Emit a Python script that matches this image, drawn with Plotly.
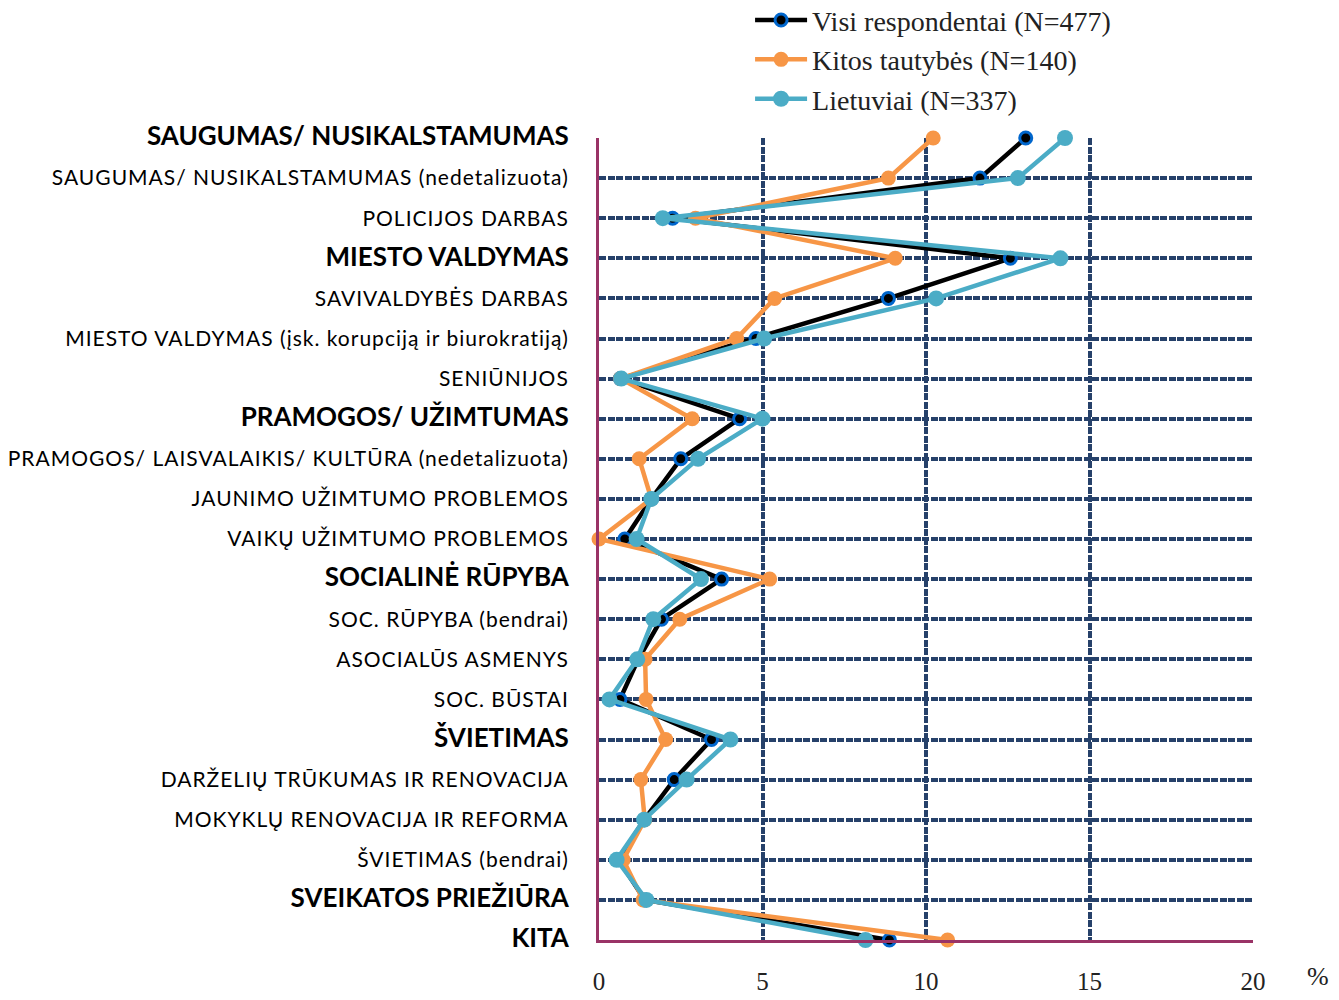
import plotly.graph_objects as go

# categories, top to bottom; bold = group headers
categories = [
    "SAUGUMAS/ NUSIKALSTAMUMAS",
    "SAUGUMAS/ NUSIKALSTAMUMAS (nedetalizuota)",
    "POLICIJOS DARBAS",
    "MIESTO VALDYMAS",
    "SAVIVALDYBĖS DARBAS",
    "MIESTO VALDYMAS (įsk. korupciją ir biurokratiją)",
    "SENIŪNIJOS",
    "PRAMOGOS/ UŽIMTUMAS",
    "PRAMOGOS/ LAISVALAIKIS/ KULTŪRA (nedetalizuota)",
    "JAUNIMO UŽIMTUMO PROBLEMOS",
    "VAIKŲ UŽIMTUMO PROBLEMOS",
    "SOCIALINĖ RŪPYBA",
    "SOC. RŪPYBA (bendrai)",
    "ASOCIALŪS ASMENYS",
    "SOC. BŪSTAI",
    "ŠVIETIMAS",
    "DARŽELIŲ TRŪKUMAS IR RENOVACIJA",
    "MOKYKLŲ RENOVACIJA IR REFORMA",
    "ŠVIETIMAS (bendrai)",
    "SVEIKATOS PRIEŽIŪRA",
    "KITA",
]
headers = {"SAUGUMAS/ NUSIKALSTAMUMAS", "MIESTO VALDYMAS", "PRAMOGOS/ UŽIMTUMAS",
           "SOCIALINĖ RŪPYBA", "ŠVIETIMAS", "SVEIKATOS PRIEŽIŪRA", "KITA"}

visi = [13.05, 11.65, 2.25, 12.58, 8.85, 4.8, 0.65, 4.3, 2.5, 1.6, 0.79,
        3.75, 1.91, 1.2, 0.64, 3.44, 2.3, 1.38, 0.6, 1.4, 8.88]
kitos = [10.22, 8.85, 2.95, 9.06, 5.37, 4.21, 0.66, 2.85, 1.23, 1.6, 0.0,
         5.22, 2.47, 1.41, 1.44, 2.04, 1.28, 1.4, 0.74, 1.35, 10.66]
lietuviai = [14.25, 12.81, 1.95, 14.11, 10.31, 5.05, 0.68, 5.0, 3.03, 1.6, 1.15,
             3.12, 1.66, 1.17, 0.32, 4.02, 2.68, 1.38, 0.54, 1.45, 8.15]

x_ticks = [0, 5, 10, 15, 20]

tick_text = []
for c in categories:
    if c in headers:
        tick_text.append(f"<b><span style='font-size:26px'>{c}</span></b>")
    else:
        tick_text.append(f"<span style='letter-spacing:1px'>{c}</span>")

grid_col = "#26416A"
axis_col = "#993366"
serif = "Liberation Serif"

fig = go.Figure()
fig.add_trace(go.Scatter(
    x=visi, y=categories, name="Visi respondentai (N=477)",
    mode="lines+markers", cliponaxis=False,
    line=dict(color="black", width=4.5),
    marker=dict(color="black", size=12, line=dict(color="#0066CC", width=3)),
))
fig.add_trace(go.Scatter(
    x=kitos, y=categories, name="Kitos tautybės (N=140)",
    mode="lines+markers", cliponaxis=False,
    line=dict(color="#F79646", width=4.5),
    marker=dict(color="#F79646", size=15),
))
fig.add_trace(go.Scatter(
    x=lietuviai, y=categories, name="Lietuviai (N=337)",
    mode="lines+markers", cliponaxis=False,
    line=dict(color="#4BACC6", width=4.5),
    marker=dict(color="#4BACC6", size=16),
))

fig.add_annotation(text="%", x=1.1, y=-0.045, xref="paper", yref="paper",
                   showarrow=False, xanchor="center", yanchor="middle",
                   font=dict(family=serif, size=26, color="#222"))

fig.update_layout(
    width=1339, height=1000,
    margin=dict(l=599, r=86, t=138, b=60, autoexpand=False),
    paper_bgcolor="white", plot_bgcolor="white",
    font=dict(family="Lato", color="black"),
    legend=dict(x=0.231, y=1.178, xanchor="left", yanchor="top",
                font=dict(family=serif, size=28, color="#222"),
                tracegroupgap=0, itemwidth=52, bgcolor="rgba(0,0,0,0)"),
    xaxis=dict(range=[0, 20], tickvals=x_ticks, showgrid=True,
               gridcolor=grid_col, gridwidth=3.5, griddash="7px,1.5px",
               zeroline=False, showline=True, linecolor=axis_col, linewidth=3,
               ticks="", ticklabelstandoff=17,
               tickfont=dict(family=serif, size=25, color="#222")),
    yaxis=dict(type="category", categoryorder="array", categoryarray=categories,
               range=[20, 0], tickvals=categories, ticktext=tick_text,
               showgrid=True, gridcolor=grid_col, gridwidth=3.5, griddash="7px,1.5px",
               zeroline=False, showline=True, linecolor=axis_col, linewidth=3,
               ticks="", ticklabelstandoff=23,
               tickfont=dict(family="Lato", size=21, color="black")),
)

fig.write_html("out.html", config={"displayModeBar": False},
               post_script="document.body.style.margin='0';")
